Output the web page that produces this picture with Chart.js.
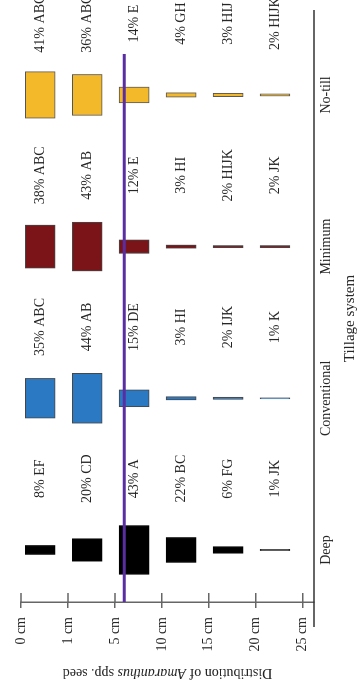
<!DOCTYPE html>
<html>
<head>
<meta charset="utf-8">
<title>Distribution of Amaranthus spp. seed by tillage system</title>
<script src="https://cdn.jsdelivr.net/npm/chart.js@4/dist/chart.umd.min.js"></script>
<style>
  html, body { margin: 0; padding: 0; background: #ffffff; overflow: hidden; }
  /* The figure is laid out landscape and turned a quarter-turn to stand in the portrait page */
  #frame {
    position: absolute; left: 0; top: 0;
    width: 695px; height: 360px;
    transform-origin: 0 0;
    transform: translateY(695px) rotate(-90deg);
  }
</style>
</head>
<body>
<div id="frame"><canvas id="seedChart" width="695" height="360"></canvas></div>
<script>
// Depth axis: tick labels at the band boundaries, and the same boundaries in cm
const depthLabels = ['0 cm', '1 cm', '5 cm', '10 cm', '15 cm', '20 cm', '25 cm'];
const depthCm = [0, 1, 5, 10, 15, 20, 25];

// Tillage systems along the other axis
const tillageSystems = ['Deep', 'Conventional', 'Minimum', 'No-till'];

// Share of the seed bank (%) in each depth band, top band first, with mean-separation letters
const deepPct = [8, 20, 43, 22, 6, 1];
const deepLetters = ['EF', 'CD', 'A', 'BC', 'FG', 'JK'];
const conventionalPct = [35, 44, 15, 3, 2, 1];
const conventionalLetters = ['ABC', 'AB', 'DE', 'HI', 'IJK', 'K'];
const minimumPct = [38, 43, 12, 3, 2, 2];
const minimumLetters = ['ABC', 'AB', 'E', 'HI', 'HIJK', 'JK'];
const noTillPct = [41, 36, 14, 4, 3, 2];
const noTillLetters = ['ABC', 'ABC', 'E', 'GH', 'HIJ', 'HIJK'];

// Reference depth marked across the plot (cm)
const referenceDepthCm = [6];

// ---- drawing settings ----
const SERIF = '"Liberation Serif", "Times New Roman", serif';
const TEXT = '#262626';
const unitsPerPercent = 0.0075;   // box length along the tillage axis per % of seed
const rowShift = 0.41;            // where a box sits inside its depth band
const labelShift = 0.47;          // value label offset from the tillage position
const lineOverhang = 0.27;        // reference line runs this far past the last system
const baselineOverhang = 25;      // tillage axis line runs past the depth axis (px)

const seriesList = [
  { pct: deepPct, letters: deepLetters, fill: '#000000', edge: '#000000' },
  { pct: conventionalPct, letters: conventionalLetters, fill: '#2b78c3', edge: '#464646' },
  { pct: minimumPct, letters: minimumLetters, fill: '#7a1418', edge: '#464646' },
  { pct: noTillPct, letters: noTillLetters, fill: '#f4b92b', edge: '#555555' }
];

// cm -> position on the (evenly spaced) depth axis
function depthPosition(cm) {
  for (let i = 0; i < depthCm.length - 1; i++) {
    if (cm >= depthCm[i] && cm <= depthCm[i + 1]) {
      return i + (cm - depthCm[i]) / (depthCm[i + 1] - depthCm[i]);
    }
  }
  return depthCm.length - 1;
}

const xMin = -0.343;
const xMax = 3.56;

const boxDatasets = seriesList.map((s, t) => ({
  type: 'bar',
  label: tillageSystems[t],
  indexAxis: 'y',
  grouped: false,
  barThickness: 30,
  borderSkipped: false,
  borderWidth: 1,
  backgroundColor: s.fill,
  borderColor: s.edge,
  order: 1,
  data: s.pct.map((p, r) => ({
    y: r + rowShift,
    x: [t - p * unitsPerPercent / 2, t + p * unitsPerPercent / 2]
  }))
}));

const referenceLine = {
  type: 'line',
  label: 'reference depth',
  borderColor: '#5a2ea2',
  borderWidth: 3,
  pointRadius: 0,
  order: 0,
  data: [
    { x: xMin, y: depthPosition(referenceDepthCm[0]) },
    { x: tillageSystems.length - 1 + lineOverhang, y: depthPosition(referenceDepthCm[0]) }
  ]
};

// Axis line extension, inner tick halves, value labels and both axis titles
const figureExtras = {
  id: 'figureExtras',
  afterDatasetsDraw(chart) {
    const { ctx, chartArea, scales: { x, y } } = chart;
    ctx.save();

    // tillage axis line, running a little past the depth axis
    const baseStart = chartArea.left - baselineOverhang;
    ctx.strokeStyle = '#333333';
    ctx.lineWidth = 1.5;
    ctx.beginPath();
    ctx.moveTo(baseStart, chartArea.bottom);
    ctx.lineTo(chartArea.right, chartArea.bottom);
    ctx.stroke();

    // depth ticks cross the axis line
    ctx.strokeStyle = '#666666';
    ctx.beginPath();
    y.ticks.forEach(tk => {
      const py = y.getPixelForValue(tk.value);
      ctx.moveTo(chartArea.left, py);
      ctx.lineTo(chartArea.left + 9, py);
    });
    ctx.stroke();

    // percentage + letter labels beside each box
    ctx.font = '14px ' + SERIF;
    ctx.fillStyle = TEXT;
    ctx.textAlign = 'center';
    ctx.textBaseline = 'middle';
    seriesList.forEach((s, t) => {
      s.pct.forEach((p, r) => {
        ctx.fillText(p + '% ' + s.letters[r],
          x.getPixelForValue(t + labelShift),
          y.getPixelForValue(r + rowShift));
      });
    });

    // tillage axis title, centred under the whole axis line
    ctx.font = '15px ' + SERIF;
    ctx.fillText('Tillage system', (baseStart + chartArea.right) / 2, x.bottom - 10);

    // depth axis title with the genus in italics
    const parts = [
      { text: 'Distribution of ', font: '14px ' + SERIF },
      { text: 'Amaranthus', font: 'italic 14px ' + SERIF },
      { text: ' spp. seed', font: '14px ' + SERIF }
    ];
    let total = 0;
    parts.forEach(pt => { ctx.font = pt.font; pt.w = ctx.measureText(pt.text).width; total += pt.w; });
    ctx.translate(y.left + 22, (chartArea.top + chartArea.bottom) / 2);
    ctx.rotate(-Math.PI / 2);
    ctx.textAlign = 'left';
    let cx = -total / 2;
    parts.forEach(pt => { ctx.font = pt.font; ctx.fillText(pt.text, cx, 0); cx += pt.w; });

    ctx.restore();
  }
};

new Chart(document.getElementById('seedChart'), {
  type: 'bar',
  data: { datasets: [...boxDatasets, referenceLine] },
  options: {
    responsive: false,
    maintainAspectRatio: false,
    devicePixelRatio: 1,
    animation: false,
    layout: { padding: { top: 21, right: 10, bottom: 0, left: 0 } },
    plugins: { legend: { display: false }, tooltip: { enabled: false } },
    scales: {
      x: {
        type: 'linear',
        position: 'bottom',
        offset: false,
        min: xMin,
        max: xMax,
        afterBuildTicks: scale => { scale.ticks = tillageSystems.map((_, i) => ({ value: i })); },
        afterFit: scale => { scale.height = 46; },
        grid: { display: false, drawTicks: false, offset: false },
        border: { display: false },
        ticks: {
          padding: 4,
          maxRotation: 0,
          autoSkip: false,
          color: TEXT,
          font: { family: SERIF, size: 14 },
          callback: (v) => tillageSystems[Math.round(v)]
        },
        title: { display: false }
      },
      y: {
        type: 'linear',
        position: 'left',
        reverse: true,
        offset: false,
        min: 0,
        max: 6.24,
        afterBuildTicks: scale => { scale.ticks = depthLabels.map((_, i) => ({ value: i })); },
        afterFit: scale => { scale.width = 93; },
        grid: { drawOnChartArea: false, drawTicks: true, tickLength: 6, color: '#666666', lineWidth: 1.5, offset: false },
        border: { display: true, color: '#666666', width: 1.5 },
        ticks: {
          padding: 9,
          autoSkip: false,
          color: TEXT,
          font: { family: SERIF, size: 14 },
          callback: (v) => depthLabels[Math.round(v)]
        }
      }
    }
  },
  plugins: [figureExtras]
});
</script>
</body>
</html>
